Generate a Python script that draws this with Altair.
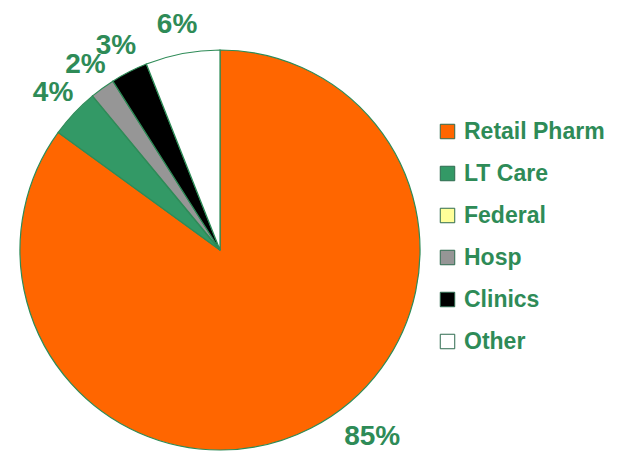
import altair as alt
import pandas as pd

categories = ["Retail Pharm", "LT Care", "Federal", "Hosp", "Clinics", "Other"]
values = [85, 4, 0, 2, 3, 6]
colors = ["#FF6600", "#339966", "#FFFF99", "#969696", "#000000", "#FFFFFF"]

df = pd.DataFrame({"cat": categories, "val": values, "ord": list(range(len(categories)))})
df["label"] = df["val"].astype(str) + "%"

TXT = "#2E8B57"
CX, CY = 212, 242

base = alt.Chart(df).encode(
    theta=alt.Theta("val:Q", stack=True),
    order=alt.Order("ord:Q"),
)

pie = base.mark_arc(outerRadius=200, stroke="#2E8B57", strokeWidth=1.2).encode(
    x=alt.value(CX), y=alt.value(CY),
    color=alt.Color("cat:N", sort=categories,
                    scale=alt.Scale(domain=categories, range=colors),
                    legend=alt.Legend(title=None, orient="none", legendX=428, legendY=112,
                                      symbolType="square", symbolSize=210,
                                      symbolStrokeColor="#2E6B4F", symbolStrokeWidth=1,
                                      labelFont="Liberation Sans", labelFontSize=23,
                                      labelFontWeight="bold", labelColor=TXT,
                                      rowPadding=18, labelOffset=5, padding=0)),
)

small = base.mark_text(font="Liberation Sans", fontSize=28, fontWeight="bold",
                       color=TXT, radius=229).encode(
    x=alt.value(CX), y=alt.value(CY),
    text=alt.condition("datum.val > 0 && datum.val < 50", alt.Text("label:N"), alt.value("")),
)

big = base.mark_text(font="Liberation Sans", fontSize=28, fontWeight="bold",
                     color=TXT, radius=236, dx=45, dy=-23).encode(
    x=alt.value(CX), y=alt.value(CY),
    text=alt.condition("datum.val >= 50", alt.Text("label:N"), alt.value("")),
)

chart = alt.layer(pie, small, big).properties(
    width=601, height=445, padding=0,
    autosize=alt.AutoSizeParams(type="none"),
).configure_view(stroke=None)

chart.save("out.html", embed_options={"renderer": "svg", "actions": False})
